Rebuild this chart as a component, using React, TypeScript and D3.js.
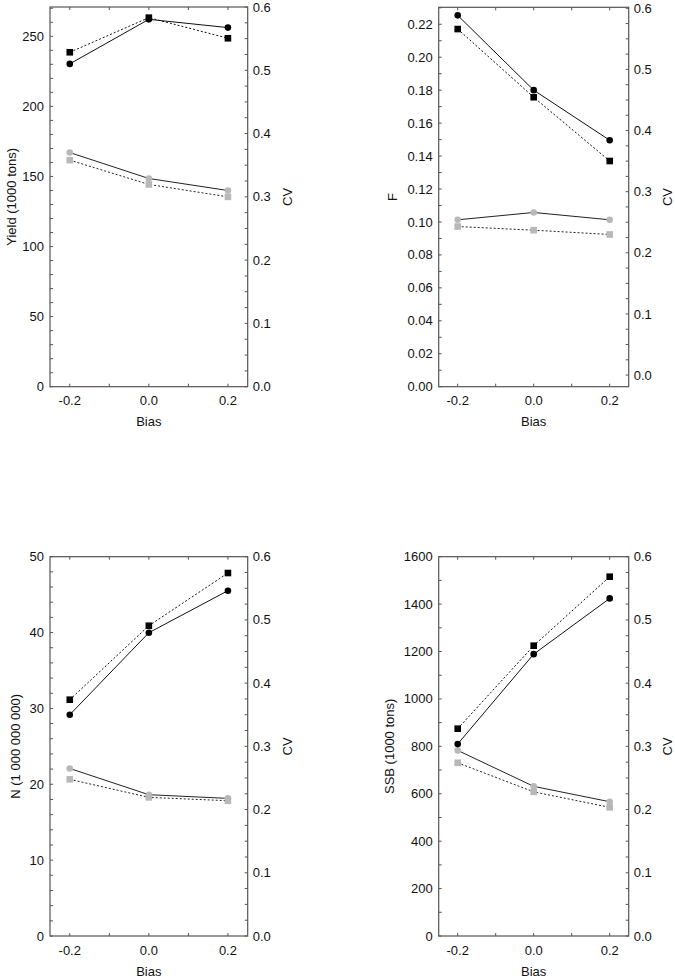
import React from "react";
import * as d3 from "d3";

// ---- data ----
const bias = [-0.2, 0.0, 0.2];

const yieldCircle = [230.3, 262.1, 256.2];
const yieldSquare = [238.6, 263.3, 248.6];
const yieldCvCircle = [0.37, 0.329, 0.31];
const yieldCvSquare = [0.358, 0.3196, 0.3];

const fCircle = [0.2254, 0.18, 0.1496];
const fSquare = [0.2171, 0.1757, 0.137];
const fCvCircle = [0.254, 0.266, 0.254];
const fCvSquare = [0.243, 0.237, 0.23];

const nCircle = [29.17, 39.98, 45.52];
const nSquare = [31.15, 40.9, 47.85];
const nCvCircle = [0.265, 0.2235, 0.2177];
const nCvSquare = [0.2478, 0.2193, 0.214];

const ssbCircle = [810, 1189, 1424];
const ssbSquare = [874.5, 1224.6, 1515.6];
const ssbCvCircle = [0.2936, 0.2367, 0.2124];
const ssbCvSquare = [0.274, 0.228, 0.2035];

const yTitles = ["Yield (1000 tons)", "F", "N (1 000 000 000)", "SSB (1000 tons)"];
const xTitle = "Bias";
const cvTitle = "CV";
const xTicks = [-0.2, 0.0, 0.2];
const cvTicks = [0, 0.1, 0.2, 0.3, 0.4, 0.5, 0.6];

// ---- layout ----
type Panel = {
  left: number; right: number; top: number; bottom: number;
  yDomain: [number, number]; cvDomain: [number, number];
  yMajor: number; yMinor: number; yMaxTick: number; yFmt: string;
  titleX: number; cvX: number;
  title: string;
  circle: number[]; square: number[]; cvCircle: number[]; cvSquare: number[];
};

const panels: Panel[] = [
  { left: 50, right: 247.7, top: 7, bottom: 386.7, yDomain: [0, 270.9], cvDomain: [0, 0.6],
    yMajor: 50, yMinor: 10, yMaxTick: 270, yFmt: "d", titleX: 11, cvX: 287,
    title: yTitles[0], circle: yieldCircle, square: yieldSquare, cvCircle: yieldCvCircle, cvSquare: yieldCvSquare },
  { left: 438.7, right: 628.7, top: 7.3, bottom: 386.7, yDomain: [0, 0.2303], cvDomain: [-0.019, 0.6016],
    yMajor: 0.02, yMinor: 0.01, yMaxTick: 0.23, yFmt: ".2f", titleX: 392, cvX: 667,
    title: yTitles[1], circle: fCircle, square: fSquare, cvCircle: fCvCircle, cvSquare: fCvSquare },
  { left: 50, right: 247.7, top: 556.7, bottom: 936, yDomain: [0, 50], cvDomain: [0, 0.6],
    yMajor: 10, yMinor: 2, yMaxTick: 50, yFmt: "d", titleX: 15, cvX: 287,
    title: yTitles[2], circle: nCircle, square: nSquare, cvCircle: nCvCircle, cvSquare: nCvSquare },
  { left: 438.7, right: 628.7, top: 556.7, bottom: 936, yDomain: [0, 1600], cvDomain: [0, 0.6],
    yMajor: 200, yMinor: 100, yMaxTick: 1600, yFmt: "d", titleX: 389, cvX: 667,
    title: yTitles[3], circle: ssbCircle, square: ssbSquare, cvCircle: ssbCvCircle, cvSquare: ssbCvSquare },
];

const FONT = "'Liberation Sans', Arial, sans-serif";
const FS = 13;
const GRAY = "#b8b8b8";
const AXIS = "#555";
const hyph = (s: string) => s.replace("\u2212", "-");

function range(a: number, b: number, step: number) {
  const out: number[] = [];
  const n = Math.round((b - a) / step);
  for (let i = 0; i <= n; i++) out.push(+(a + i * step).toFixed(6));
  return out;
}

function PanelChart({ p }: { p: Panel }) {
  const x = d3.scaleLinear().domain([-0.25, 0.25]).range([p.left, p.right]);
  const y = d3.scaleLinear().domain(p.yDomain).range([p.bottom, p.top]);
  const cv = d3.scaleLinear().domain(p.cvDomain).range([p.bottom, p.top]);
  const yf = d3.format(p.yFmt);
  const xf = d3.format(".1f");
  const cf = d3.format(".1f");

  const lineY = d3.line<number>().x((_, i) => x(bias[i])).y((v) => y(v));
  const lineCv = d3.line<number>().x((_, i) => x(bias[i])).y((v) => cv(v));

  const yMinorTicks = range(0, p.yMaxTick, p.yMinor);
  const yMajorTicks = range(0, p.yMaxTick, p.yMajor).filter((v) => v <= p.yDomain[1] + 1e-9);
  const cvMinorTicks = range(0, 0.6, 0.025);
  const xMinorTicks = range(-0.2, 0.2, 0.1);
  const tl = 3;
  const midY = (p.top + p.bottom) / 2;
  const sq = 6.6;
  const r = 3.3;

  return (
    <g>
      {/* ticks */}
      {yMinorTicks.map((v, i) => (
        <line key={"ym" + i} x1={p.left} x2={p.left + tl} y1={y(v)} y2={y(v)} stroke={AXIS} />
      ))}
      {cvMinorTicks.map((v, i) => (
        <line key={"cm" + i} x1={p.right} x2={p.right - tl} y1={cv(v)} y2={cv(v)} stroke={AXIS} />
      ))}
      {xMinorTicks.map((v, i) => (
        <g key={"xm" + i}>
          <line x1={x(v)} x2={x(v)} y1={p.bottom} y2={p.bottom - tl} stroke={AXIS} />
          <line x1={x(v)} x2={x(v)} y1={p.top} y2={p.top + tl} stroke={AXIS} />
        </g>
      ))}
      <rect x={p.left} y={p.top} width={p.right - p.left} height={p.bottom - p.top} fill="none" stroke={AXIS} strokeWidth={1.2} />

      {/* tick labels */}
      {yMajorTicks.map((v, i) => (
        <text key={"yl" + i} x={p.left - 6} y={y(v)} dy="0.35em" textAnchor="end" fontSize={FS} fontFamily={FONT} fill="#111">
          {hyph(yf(v))}
        </text>
      ))}
      {cvTicks.map((v, i) => (
        <text key={"cl" + i} x={p.right + 5} y={cv(v)} dy="0.35em" textAnchor="start" fontSize={FS} fontFamily={FONT} fill="#111">
          {cf(v)}
        </text>
      ))}
      {xTicks.map((v, i) => (
        <text key={"xl" + i} x={x(v)} y={p.bottom + 14} dy="0.35em" textAnchor="middle" fontSize={FS} fontFamily={FONT} fill="#111">
          {hyph(xf(v))}
        </text>
      ))}

      {/* titles */}
      <text x={(p.left + p.right) / 2} y={p.bottom + 35} dy="0.35em" textAnchor="middle" fontSize={FS} fontFamily={FONT} fill="#111">
        {xTitle}
      </text>
      <text transform={`translate(${p.titleX},${midY}) rotate(-90)`} dy="0.35em" textAnchor="middle" fontSize={FS} fontFamily={FONT} fill="#111">
        {p.title}
      </text>
      <text transform={`translate(${p.cvX},${midY}) rotate(-90)`} dy="0.35em" textAnchor="middle" fontSize={FS} fontFamily={FONT} fill="#111">
        {cvTitle}
      </text>

      {/* CV series (gray markers) */}
      <path d={lineCv(p.cvCircle) || ""} fill="none" stroke="#222" strokeWidth={1} />
      <path d={lineCv(p.cvSquare) || ""} fill="none" stroke="#222" strokeWidth={1} strokeDasharray="2,2" />
      {p.cvCircle.map((v, i) => (
        <circle key={"cc" + i} cx={x(bias[i])} cy={cv(v)} r={r} fill={GRAY} />
      ))}
      {p.cvSquare.map((v, i) => (
        <rect key={"cs" + i} x={x(bias[i]) - sq / 2} y={cv(v) - sq / 2} width={sq} height={sq} fill={GRAY} />
      ))}

      {/* main series (black markers) */}
      <path d={lineY(p.circle) || ""} fill="none" stroke="#111" strokeWidth={1} />
      <path d={lineY(p.square) || ""} fill="none" stroke="#111" strokeWidth={1} strokeDasharray="2,2" />
      {p.circle.map((v, i) => (
        <circle key={"bc" + i} cx={x(bias[i])} cy={y(v)} r={r} fill="#000" />
      ))}
      {p.square.map((v, i) => (
        <rect key={"bs" + i} x={x(bias[i]) - sq / 2} y={y(v) - sq / 2} width={sq} height={sq} fill="#000" />
      ))}
    </g>
  );
}

export default function App() {
  return (
    <svg width={675} height={979} style={{ position: "absolute", left: 0, top: 0, background: "#fff" }}>
      <rect x={0} y={0} width={675} height={979} fill="#fff" />
      {panels.map((p, i) => (
        <PanelChart key={i} p={p} />
      ))}
    </svg>
  );
}
